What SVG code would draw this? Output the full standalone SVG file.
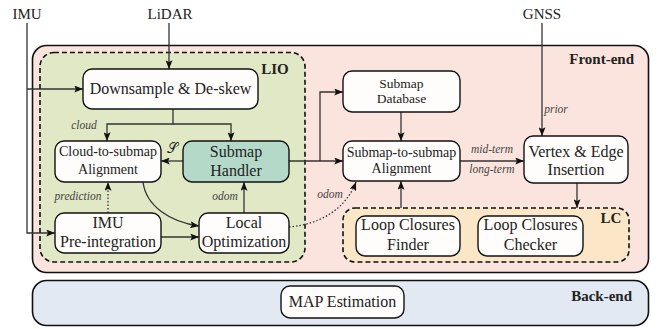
<svg xmlns="http://www.w3.org/2000/svg" width="660" height="329" viewBox="0 0 660 329">
<style>
.n{font-size:16px;text-anchor:middle;fill:#222;}
.s{font-size:14px;text-anchor:middle;fill:#222;}
.lbl{font-size:11.5px;font-style:italic;fill:#444;text-anchor:middle;}
.ttl{font-size:15px;font-weight:bold;fill:#222;}
.src{font-size:15px;text-anchor:middle;fill:#222;}
.box{fill:#fffdfc;stroke:#111;stroke-width:1.4;}
.c{fill:none;stroke:#333;stroke-width:1.3;}
.dot{stroke-dasharray:1.5 2;}
</style>
<defs>
<marker id="ah" viewBox="0 0 10 8" refX="10" refY="4" markerWidth="9" markerHeight="7" markerUnits="userSpaceOnUse" orient="auto">
<path d="M0,0 L10,4 L0,8 L2,4 z" fill="#111"/>
</marker>
</defs>
<g id="frontend">
<rect x="32.5" y="45.5" width="616" height="227" rx="14" fill="#fbe4dd" stroke="#111" stroke-width="1.6"/>
<text class="ttl" font-family="Liberation Serif" x="634" y="64" text-anchor="end">Front-end</text>
</g>
<g id="backend">
<rect x="32.5" y="280.5" width="616" height="45" rx="14" fill="#e2e9f3" stroke="#111" stroke-width="1.6"/>
<text class="ttl" font-family="Liberation Serif" x="632" y="301" text-anchor="end">Back-end</text>
</g>
<g id="lio">
<rect x="40" y="52.5" width="265" height="209.5" rx="14" fill="#e1e8c5" stroke="#111" stroke-width="1.6" stroke-dasharray="5 3"/>
<text class="ttl" font-family="Liberation Serif" x="275" y="74" text-anchor="middle">LIO</text>
</g>
<g id="lc">
<rect x="343" y="208" width="286" height="54" rx="12" fill="#fbe7c8" stroke="#111" stroke-width="1.6" stroke-dasharray="5 3"/>
<text class="ttl" font-family="Liberation Serif" x="611" y="223" text-anchor="middle">LC</text>
</g>
<g id="sources">
<text class="src" font-family="Liberation Serif" x="27" y="19">IMU</text>
<text class="src" font-family="Liberation Serif" x="170" y="19">LiDAR</text>
<text class="src" font-family="Liberation Serif" x="542" y="19">GNSS</text>
</g>
<g id="connectors">
<path class="c" d="M27,23 V233 H55" marker-end="url(#ah)"/>
<path class="c" d="M27,89 H83" marker-end="url(#ah)"/>
<path class="c" d="M169,23 V69" marker-end="url(#ah)"/>
<path class="c" d="M173,109 V124 H107 V141" marker-end="url(#ah)"/>
<path class="c" d="M173,124 H231 V141" marker-end="url(#ah)"/>
<path class="c" d="M183,161 H161" marker-end="url(#ah)"/>
<path class="c" d="M289,161 H343" marker-end="url(#ah)"/>
<path class="c" d="M320,161 V92 H343" marker-end="url(#ah)"/>
<path class="c" d="M401,112 V141" marker-end="url(#ah)"/>
<path class="c" d="M460,161 H524" marker-end="url(#ah)"/>
<path class="c" d="M542,23 V136" marker-end="url(#ah)"/>
<path class="c" d="M577,183 V208" marker-end="url(#ah)"/>
<path class="c" d="M401,208 V181" marker-end="url(#ah)"/>
<path class="c dot" d="M108,213 V182" marker-end="url(#ah)"/>
<path class="c" d="M143,182 C146,206 170,222 199,226" marker-end="url(#ah)"/>
<path class="c" d="M161,237 H199" marker-end="url(#ah)"/>
<path class="c" d="M244,213 V182" marker-end="url(#ah)"/>
<path class="c dot" d="M289,227 C322,224 346,208 356,182" marker-end="url(#ah)"/>
<text class="lbl" font-family="Liberation Serif" x="84" y="129">cloud</text>
<text font-family="Liberation Serif" x="172" y="153" font-size="14" text-anchor="middle" fill="#222">𝒮</text>
<text class="lbl" font-family="Liberation Serif" x="78" y="200">prediction</text>
<text class="lbl" font-family="Liberation Serif" x="225" y="200">odom</text>
<text class="lbl" font-family="Liberation Serif" x="330" y="198">odom</text>
<text class="lbl" font-family="Liberation Serif" x="492" y="153">mid-term</text>
<text class="lbl" font-family="Liberation Serif" x="492" y="173">long-term</text>
<text class="lbl" font-family="Liberation Serif" x="556" y="113">prior</text>
</g>
<g id="downsample">
<rect class="box" x="83" y="69" width="175" height="40" rx="9"/>
<text class="n" font-family="Liberation Serif" x="170.5" y="94">Downsample &amp; De-skew</text>
</g>
<g id="cloud2submap">
<rect class="box" x="55" y="141" width="106" height="41" rx="9"/>
<text class="s" font-family="Liberation Serif" x="108" y="156">Cloud-to-submap</text>
<text class="s" font-family="Liberation Serif" x="108" y="174">Alignment</text>
</g>
<g id="submaphandler">
<rect class="box" x="183" y="141" width="106" height="41" rx="9" style="fill:#b5d9c8"/>
<text class="n" font-family="Liberation Serif" x="236" y="157">Submap</text>
<text class="n" font-family="Liberation Serif" x="236" y="176">Handler</text>
</g>
<g id="imupre">
<rect class="box" x="55" y="213" width="106" height="40" rx="9"/>
<text class="n" font-family="Liberation Serif" x="108" y="228">IMU</text>
<text class="n" font-family="Liberation Serif" x="108" y="247">Pre-integration</text>
</g>
<g id="localopt">
<rect class="box" x="199" y="213" width="90" height="40" rx="9"/>
<text class="n" font-family="Liberation Serif" x="244" y="228">Local</text>
<text class="n" font-family="Liberation Serif" x="244" y="247">Optimization</text>
</g>
<g id="submapdb">
<rect class="box" x="343" y="71" width="117" height="41" rx="9"/>
<text class="s" font-family="Liberation Serif" x="401.5" y="88" style="font-size:13.5px">Submap</text>
<text class="s" font-family="Liberation Serif" x="401.5" y="103" style="font-size:13.5px">Database</text>
</g>
<g id="s2s">
<rect class="box" x="343" y="141" width="117" height="40" rx="9"/>
<text class="s" font-family="Liberation Serif" x="401.5" y="157">Submap-to-submap</text>
<text class="s" font-family="Liberation Serif" x="401.5" y="173">Alignment</text>
</g>
<g id="vertexedge">
<rect class="box" x="524" y="136" width="104" height="47" rx="9"/>
<text class="n" font-family="Liberation Serif" x="576" y="157">Vertex &amp; Edge</text>
<text class="n" font-family="Liberation Serif" x="576" y="175">Insertion</text>
</g>
<g id="lcfinder">
<rect class="box" x="356" y="216" width="104" height="40" rx="9"/>
<text class="n" font-family="Liberation Serif" x="408" y="230">Loop Closures</text>
<text class="n" font-family="Liberation Serif" x="408" y="250">Finder</text>
</g>
<g id="lcchecker">
<rect class="box" x="478" y="216" width="105" height="40" rx="9"/>
<text class="n" font-family="Liberation Serif" x="530.5" y="230">Loop Closures</text>
<text class="n" font-family="Liberation Serif" x="530.5" y="250">Checker</text>
</g>
<g id="mapest">
<rect class="box" x="281" y="286" width="123" height="32" rx="9"/>
<text class="n" font-family="Liberation Serif" x="342.5" y="307">MAP Estimation</text>
</g>
</svg>
